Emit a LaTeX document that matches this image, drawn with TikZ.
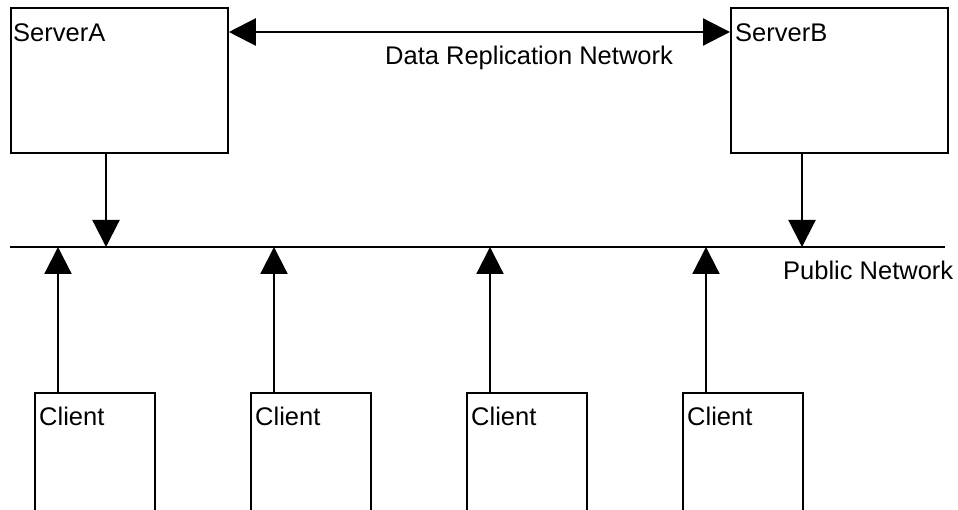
\documentclass[tikz,border=0pt]{standalone}
\usepackage{fontspec}
\setmainfont{Liberation Sans}
\usetikzlibrary{arrows.meta}

\begin{document}
\begin{tikzpicture}[x=1pt, y=-1pt,
  box/.style={draw=black, line width=1.8pt, fill=white, inner sep=0pt,
              anchor=north west},
  server/.style={box, minimum width=217pt, minimum height=145pt},
  client/.style={box, minimum width=120pt, minimum height=150pt},
  caption/.style={anchor=base west, inner sep=0pt,
                  font=\fontsize{25.5}{30}\selectfont},
  link/.style={line width=2.2pt, -{Triangle[length=27pt, width=27pt]}},
  biglink/.style={line width=2.2pt,
                  {Triangle[length=27pt, width=27pt]}-{Triangle[length=27pt, width=27pt]}},
  bus/.style={line width=2pt}
]
\useasboundingbox (0,0) rectangle (958,510);
\clip (0,0) rectangle (958,510);

% servers
\node[server] (srvA) at (10,7) {};
\node[server] (srvB) at (730,7) {};
\node[caption] (srvAtxt) at (13,42) {ServerA};
\node[caption] (srvBtxt) at (735,42) {ServerB};

% replication link between the servers
\draw[biglink] ([yshift=-25pt]srvA.north east) -- ([yshift=-25pt]srvB.north west);
\node[caption] (repltxt) at (385,65) {Data Replication Network};

% public network bus
\coordinate (busL) at (10,247);
\coordinate (busR) at (945,247);
\draw[bus] (busL) -- (busR);
\node[caption] (pubtxt) at (783,280) {Public Network};

% server taps onto the bus
\coordinate (tapA) at (106,247);
\coordinate (tapB) at (802,247);
\draw[link] (tapA |- srvA.south) -- (tapA);
\draw[link] (tapB |- srvB.south) -- (tapB);

% clients and their uplinks
\foreach \i/\x in {1/34, 2/250, 3/466, 4/682} {
  \node[client] (cl\i) at (\x,392) {};
  \node[caption] (cl\i txt) at (\x+5,425) {Client};
  \coordinate (tapC\i) at (\x+24,247);
  \draw[link] (tapC\i |- cl\i.north) -- (tapC\i);
}
\end{tikzpicture}
\end{document}
